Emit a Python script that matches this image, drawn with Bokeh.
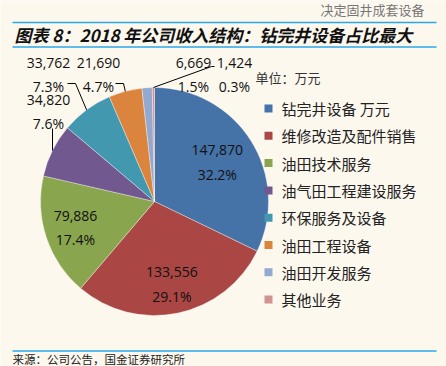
import math
from bokeh.plotting import figure
from bokeh.models import Range1d, ColumnDataSource
from bokeh.core.properties import value
from bokeh.embed import file_html
from bokeh.resources import INLINE

# ---- data ----
categories = ["钻完井设备 万元", "维修改造及配件销售", "油田技术服务", "油气田工程建设服务",
              "环保服务及设备", "油田工程设备", "油田开发服务", "其他业务"]
values = [147870, 133556, 79886, 34820, 33762, 21690, 6669, 1424]
percents = ["32.2%", "29.1%", "17.4%", "7.6%", "7.3%", "4.7%", "1.5%", "0.3%"]
colors = ["#4572A7", "#AA4643", "#89A54E", "#71588F", "#4198AF", "#DB843D", "#93A9CF", "#D19392"]

title_text = "图表 8：2018 年公司收入结构：钻完井设备占比最大"
unit_text = "单位：万元"
source_text = "来源：公司公告，国金证券研究所"
header_text = "决定固井成套设备"

# ---- layout ----
W, H = 446, 366
BG = "#FDF8EE"
LINE_BLUE = "#2AA7E8"
cx_s, cy_s, R = 154, 201, 114          # pie centre (screen px) and radius


def X(xs):
    return xs


def Y(ys):
    return H - ys


p = figure(width=W, height=H, x_range=Range1d(0, W), y_range=Range1d(0, H),
           x_axis_type=None, y_axis_type=None, toolbar_location=None,
           output_backend="svg", min_border=0, outline_line_color=None,
           background_fill_color=BG, border_fill_color=BG)
p.grid.visible = False

total = sum(values)
starts, ends, mids = [], [], []
cum = 0.0
for v in values:
    a0 = math.pi / 2 - 2 * math.pi * cum / total
    cum += v
    a1 = math.pi / 2 - 2 * math.pi * cum / total
    starts.append(a0)
    ends.append(a1)
    mids.append((a0 + a1) / 2)

src = ColumnDataSource(dict(start=starts, end=ends, color=colors))
p.wedge(x=X(cx_s), y=Y(cy_s), radius=R, start_angle="start", end_angle="end",
        direction="clock", fill_color="color", line_color="white", line_alpha=0.6,
        line_width=0.6, source=src)

num_font = value("Open Sans")
cjk = value("Noto Sans CJK SC")
fmt = ["{:,}".format(v) for v in values]

# inside labels
inside_k = [0.65, 0.74, 0.73]
for i, k in enumerate(inside_k):
    lx = X(cx_s) + R * k * math.cos(mids[i])
    ly = Y(cy_s) + R * k * math.sin(mids[i])
    p.text(x=[lx], y=[ly], text=[fmt[i] + "\n" + percents[i]], text_font=num_font,
           text_font_size="14px", text_align="center", text_baseline="middle",
           text_color="#111111", text_line_height=1.3)

# outside labels (label centre positions in screen px)
out_pos = {3: (48, 111), 4: (48, 74), 5: (98, 74), 6: (193, 74), 7: (234, 74)}
for i, (sx, sy) in out_pos.items():
    p.text(x=[X(sx)], y=[Y(sy)], text=[fmt[i] + "\n" + percents[i]], text_font=num_font,
           text_font_size="14px", text_align="center", text_baseline="middle",
           text_color="#111111", text_line_height=1.3)


def edge(i):
    return (X(cx_s) + R * math.cos(mids[i]), Y(cy_s) + R * math.sin(mids[i]))


# leader lines
ex, ey = edge(3)
p.line(x=[X(52), X(52)], y=[Y(128), ey], line_color="black", line_width=1)
ex, ey = edge(4)
p.line(x=[X(67), X(75), ex], y=[Y(83), Y(83), ey], line_color="black", line_width=1)
ex, ey = edge(5)
p.line(x=[X(115), X(123), ex], y=[Y(83), Y(83), ey], line_color="black", line_width=1)
ex, ey = edge(7)
p.line(x=[X(214), X(211), ex], y=[Y(66), Y(66), ey], line_color="black", line_width=1)

# unit
p.text(x=[X(255)], y=[Y(77)], text=[unit_text], text_font=cjk, text_font_size="13px",
       text_baseline="middle", text_color="#333333")

# legend
leg_y0, leg_dy = 108, 27.3
ly = [Y(leg_y0 + i * leg_dy) for i in range(len(categories))]
p.rect(x=[X(268)] * len(categories), y=ly, width=8, height=8, fill_color=colors, line_color=None)
p.text(x=[X(281)] * len(categories), y=ly, text=categories, text_font=cjk,
       text_font_size="15px", text_baseline="middle", text_color="#222222")

# title, rules, footer, header
p.line(x=[X(12), X(436)], y=[Y(22), Y(22)], line_color=LINE_BLUE, line_width=1.5)
p.line(x=[X(12), X(436)], y=[Y(46.5), Y(46.5)], line_color=LINE_BLUE, line_width=1.5)
p.text(x=[X(14)], y=[Y(33.5)], text=[title_text], text_font=cjk, text_font_size="17px",
       text_font_style="bold italic", text_baseline="middle", text_color="#111111")
p.line(x=[X(12), X(436)], y=[Y(350.5), Y(350.5)], line_color=LINE_BLUE, line_width=1.5)
p.text(x=[X(12)], y=[Y(358)], text=[source_text], text_font=cjk, text_font_size="11.5px",
       text_baseline="middle", text_color="#222222")
p.text(x=[X(320)], y=[Y(9)], text=[header_text], text_font=cjk, text_font_size="13px",
       text_baseline="middle", text_color="#777777")

html = file_html(p, INLINE)
html = html.replace("<body>", '<body style="margin:0;overflow:hidden">', 1)
open("out.html", "w").write(html)
